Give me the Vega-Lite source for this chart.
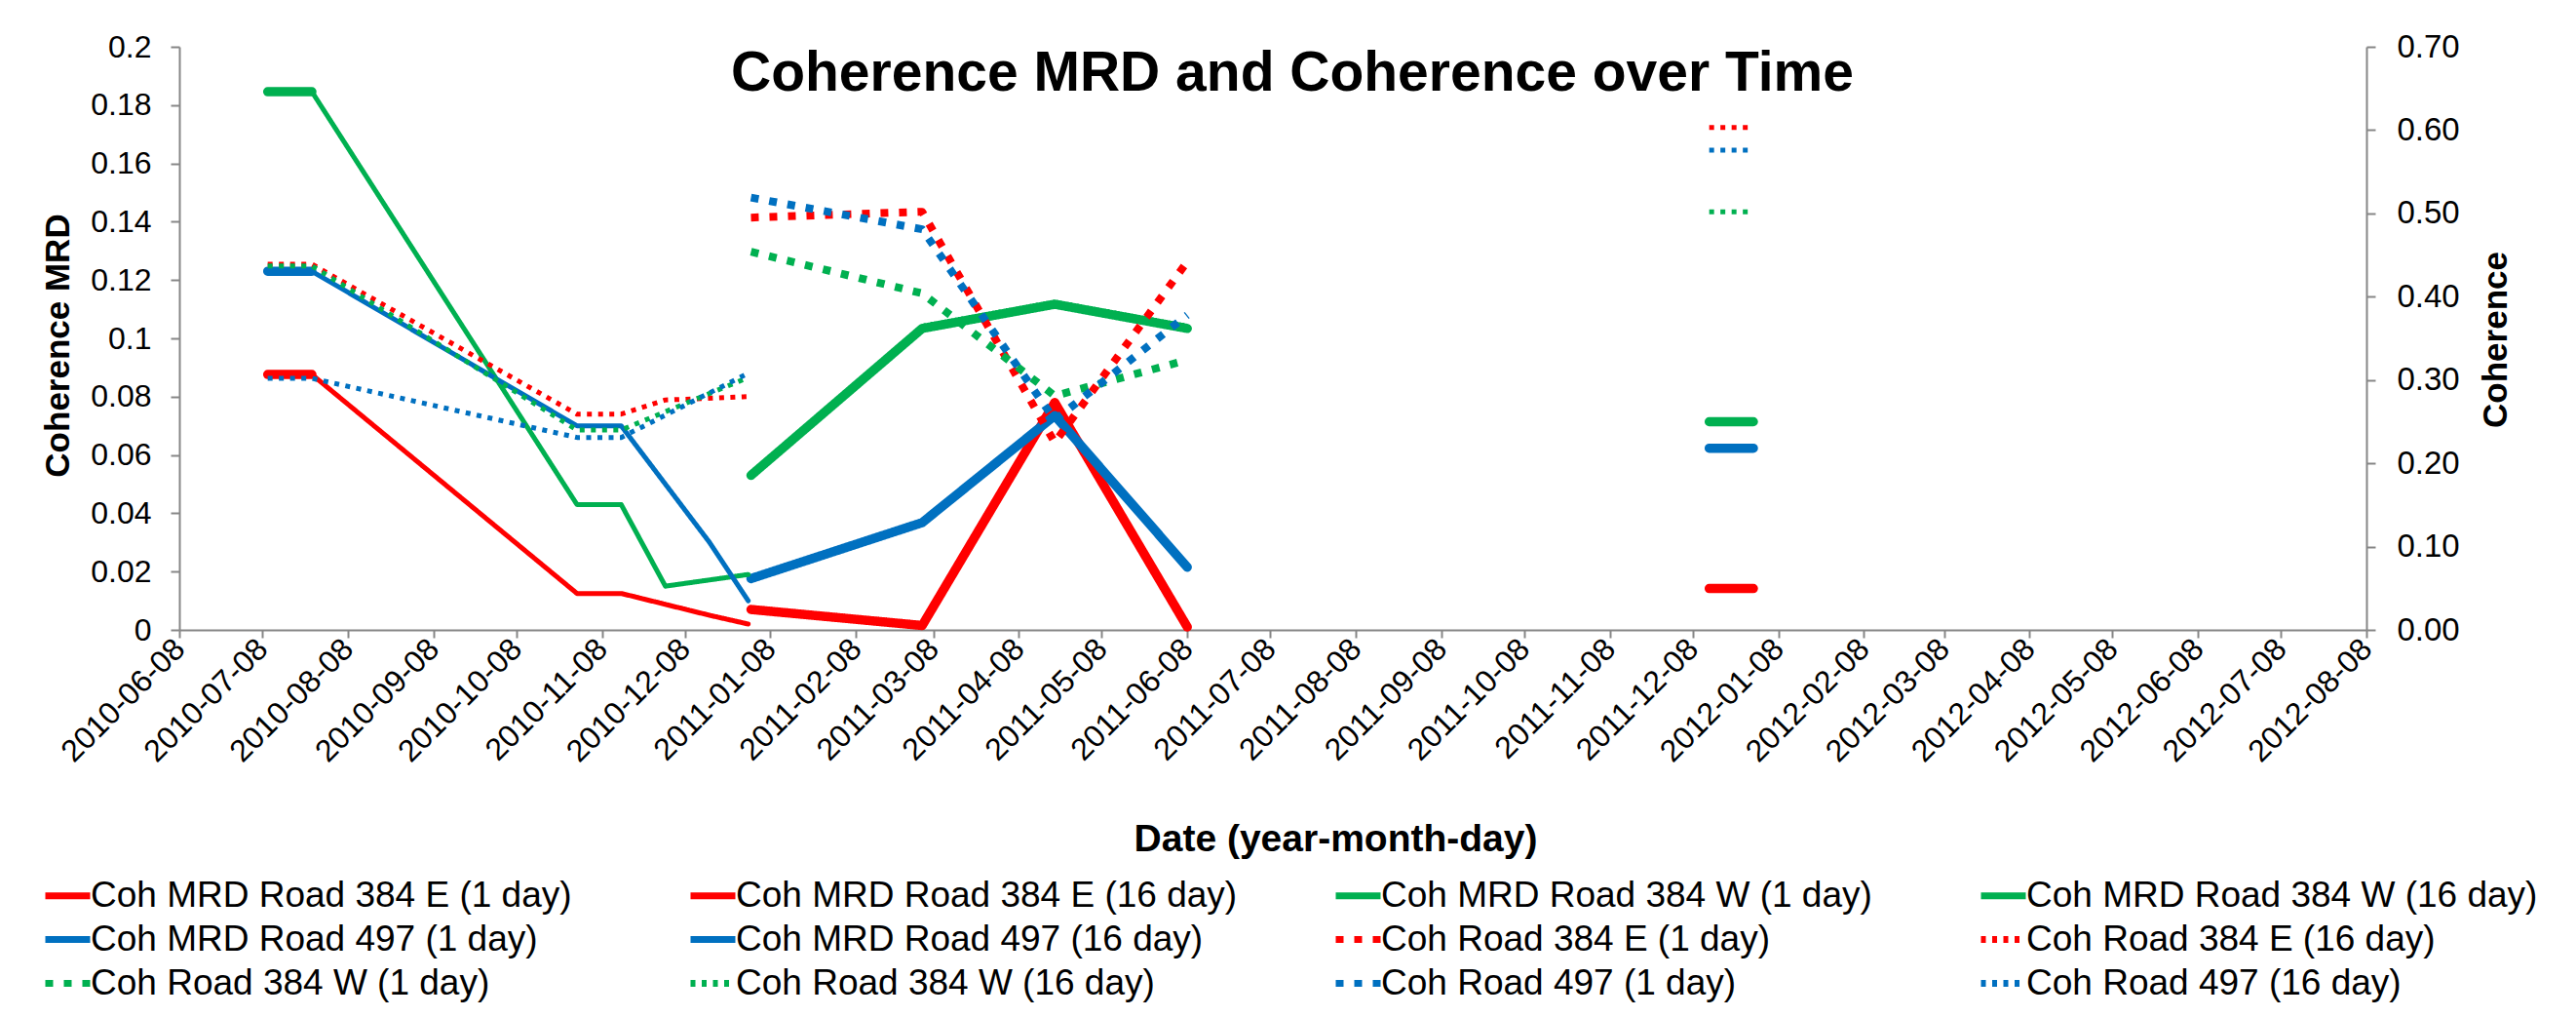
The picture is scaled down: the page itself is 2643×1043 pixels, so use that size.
{
  "$schema": "https://vega.github.io/schema/vega-lite/v6.json",
  "width": 2244,
  "height": 598,
  "autosize": {"type": "none"},
  "padding": {"left": 184, "top": 48, "right": 215, "bottom": 397},
  "background": "white",
  "config": {"view": {"stroke": null}, "font": "Liberation Sans"},
  "title": {"text": "Coherence MRD and Coherence over Time", "font": "Liberation Sans", "fontSize": 57, "fontWeight": "bold", "color": "black", "anchor": "middle", "dx": 20, "baseline": "middle", "offset": -101},
  "data": {"values": [
    {"series": "Coh MRD Road 384 E (1 day)", "seg": "a", "date": "2010-07-10", "value": 0.0876},
    {"series": "Coh MRD Road 384 E (1 day)", "seg": "a", "date": "2010-07-26", "value": 0.0876},
    {"series": "Coh MRD Road 384 E (1 day)", "seg": "b", "date": "2011-01-01", "value": 0.0070},
    {"series": "Coh MRD Road 384 E (1 day)", "seg": "b", "date": "2011-03-04", "value": 0.0015},
    {"series": "Coh MRD Road 384 E (1 day)", "seg": "b", "date": "2011-04-21", "value": 0.0780},
    {"series": "Coh MRD Road 384 E (1 day)", "seg": "b", "date": "2011-06-08", "value": 0.0010},
    {"series": "Coh MRD Road 384 E (1 day)", "seg": "c", "date": "2011-12-14", "value": 0.0142},
    {"series": "Coh MRD Road 384 E (1 day)", "seg": "c", "date": "2011-12-30", "value": 0.0142},
    {"series": "Coh MRD Road 384 E (16 day)", "seg": "a", "date": "2010-07-10", "value": 0.0876},
    {"series": "Coh MRD Road 384 E (16 day)", "seg": "a", "date": "2010-07-26", "value": 0.0876},
    {"series": "Coh MRD Road 384 E (16 day)", "seg": "a", "date": "2010-10-30", "value": 0.0125},
    {"series": "Coh MRD Road 384 E (16 day)", "seg": "a", "date": "2010-11-15", "value": 0.0125},
    {"series": "Coh MRD Road 384 E (16 day)", "seg": "a", "date": "2010-12-17", "value": 0.0050},
    {"series": "Coh MRD Road 384 E (16 day)", "seg": "a", "date": "2010-12-31", "value": 0.0020},
    {"series": "Coh MRD Road 384 W (1 day)", "seg": "a", "date": "2010-07-10", "value": 0.1846},
    {"series": "Coh MRD Road 384 W (1 day)", "seg": "a", "date": "2010-07-26", "value": 0.1846},
    {"series": "Coh MRD Road 384 W (1 day)", "seg": "b", "date": "2011-01-01", "value": 0.0530},
    {"series": "Coh MRD Road 384 W (1 day)", "seg": "b", "date": "2011-03-04", "value": 0.1034},
    {"series": "Coh MRD Road 384 W (1 day)", "seg": "b", "date": "2011-04-21", "value": 0.1117},
    {"series": "Coh MRD Road 384 W (1 day)", "seg": "b", "date": "2011-06-08", "value": 0.1034},
    {"series": "Coh MRD Road 384 W (1 day)", "seg": "c", "date": "2011-12-14", "value": 0.0714},
    {"series": "Coh MRD Road 384 W (1 day)", "seg": "c", "date": "2011-12-30", "value": 0.0714},
    {"series": "Coh MRD Road 384 W (16 day)", "seg": "a", "date": "2010-07-10", "value": 0.1846},
    {"series": "Coh MRD Road 384 W (16 day)", "seg": "a", "date": "2010-07-26", "value": 0.1846},
    {"series": "Coh MRD Road 384 W (16 day)", "seg": "a", "date": "2010-10-30", "value": 0.0430},
    {"series": "Coh MRD Road 384 W (16 day)", "seg": "a", "date": "2010-11-15", "value": 0.0430},
    {"series": "Coh MRD Road 384 W (16 day)", "seg": "a", "date": "2010-12-01", "value": 0.0150},
    {"series": "Coh MRD Road 384 W (16 day)", "seg": "a", "date": "2010-12-31", "value": 0.0190},
    {"series": "Coh MRD Road 497 (1 day)", "seg": "a", "date": "2010-07-10", "value": 0.1230},
    {"series": "Coh MRD Road 497 (1 day)", "seg": "a", "date": "2010-07-26", "value": 0.1230},
    {"series": "Coh MRD Road 497 (1 day)", "seg": "b", "date": "2011-01-01", "value": 0.0176},
    {"series": "Coh MRD Road 497 (1 day)", "seg": "b", "date": "2011-03-04", "value": 0.0368},
    {"series": "Coh MRD Road 497 (1 day)", "seg": "b", "date": "2011-04-21", "value": 0.0735},
    {"series": "Coh MRD Road 497 (1 day)", "seg": "b", "date": "2011-06-08", "value": 0.0215},
    {"series": "Coh MRD Road 497 (1 day)", "seg": "c", "date": "2011-12-14", "value": 0.0623},
    {"series": "Coh MRD Road 497 (1 day)", "seg": "c", "date": "2011-12-30", "value": 0.0623},
    {"series": "Coh MRD Road 497 (16 day)", "seg": "a", "date": "2010-07-10", "value": 0.1230},
    {"series": "Coh MRD Road 497 (16 day)", "seg": "a", "date": "2010-07-26", "value": 0.1230},
    {"series": "Coh MRD Road 497 (16 day)", "seg": "a", "date": "2010-10-30", "value": 0.0700},
    {"series": "Coh MRD Road 497 (16 day)", "seg": "a", "date": "2010-11-15", "value": 0.0700},
    {"series": "Coh MRD Road 497 (16 day)", "seg": "a", "date": "2010-12-17", "value": 0.0300},
    {"series": "Coh MRD Road 497 (16 day)", "seg": "a", "date": "2010-12-31", "value": 0.0100},
    {"series": "Coh Road 384 E (1 day)", "seg": "b", "date": "2011-01-01", "value": 0.495},
    {"series": "Coh Road 384 E (1 day)", "seg": "b", "date": "2011-03-04", "value": 0.502},
    {"series": "Coh Road 384 E (1 day)", "seg": "b", "date": "2011-04-21", "value": 0.225},
    {"series": "Coh Road 384 E (1 day)", "seg": "b", "date": "2011-06-08", "value": 0.442},
    {"series": "Coh Road 384 E (16 day)", "seg": "a", "date": "2010-07-10", "value": 0.439},
    {"series": "Coh Road 384 E (16 day)", "seg": "a", "date": "2010-07-26", "value": 0.439},
    {"series": "Coh Road 384 E (16 day)", "seg": "a", "date": "2010-10-30", "value": 0.259},
    {"series": "Coh Road 384 E (16 day)", "seg": "a", "date": "2010-11-15", "value": 0.259},
    {"series": "Coh Road 384 E (16 day)", "seg": "a", "date": "2010-12-01", "value": 0.276},
    {"series": "Coh Road 384 E (16 day)", "seg": "a", "date": "2010-12-31", "value": 0.280},
    {"series": "Coh Road 384 E (16 day)", "seg": "c", "date": "2011-12-14", "value": 0.603},
    {"series": "Coh Road 384 E (16 day)", "seg": "c", "date": "2011-12-30", "value": 0.603},
    {"series": "Coh Road 384 W (1 day)", "seg": "b", "date": "2011-01-01", "value": 0.454},
    {"series": "Coh Road 384 W (1 day)", "seg": "b", "date": "2011-03-04", "value": 0.404},
    {"series": "Coh Road 384 W (1 day)", "seg": "b", "date": "2011-04-21", "value": 0.281},
    {"series": "Coh Road 384 W (1 day)", "seg": "b", "date": "2011-06-08", "value": 0.324},
    {"series": "Coh Road 384 W (16 day)", "seg": "a", "date": "2010-07-10", "value": 0.437},
    {"series": "Coh Road 384 W (16 day)", "seg": "a", "date": "2010-07-26", "value": 0.437},
    {"series": "Coh Road 384 W (16 day)", "seg": "a", "date": "2010-10-30", "value": 0.240},
    {"series": "Coh Road 384 W (16 day)", "seg": "a", "date": "2010-11-15", "value": 0.240},
    {"series": "Coh Road 384 W (16 day)", "seg": "a", "date": "2010-12-31", "value": 0.303},
    {"series": "Coh Road 384 W (16 day)", "seg": "c", "date": "2011-12-14", "value": 0.502},
    {"series": "Coh Road 384 W (16 day)", "seg": "c", "date": "2011-12-30", "value": 0.502},
    {"series": "Coh Road 497 (1 day)", "seg": "b", "date": "2011-01-01", "value": 0.519},
    {"series": "Coh Road 497 (1 day)", "seg": "b", "date": "2011-03-04", "value": 0.481},
    {"series": "Coh Road 497 (1 day)", "seg": "b", "date": "2011-04-21", "value": 0.252},
    {"series": "Coh Road 497 (1 day)", "seg": "b", "date": "2011-06-08", "value": 0.378},
    {"series": "Coh Road 497 (16 day)", "seg": "a", "date": "2010-07-10", "value": 0.302},
    {"series": "Coh Road 497 (16 day)", "seg": "a", "date": "2010-07-26", "value": 0.302},
    {"series": "Coh Road 497 (16 day)", "seg": "a", "date": "2010-10-30", "value": 0.231},
    {"series": "Coh Road 497 (16 day)", "seg": "a", "date": "2010-11-15", "value": 0.231},
    {"series": "Coh Road 497 (16 day)", "seg": "a", "date": "2010-12-31", "value": 0.308},
    {"series": "Coh Road 497 (16 day)", "seg": "c", "date": "2011-12-14", "value": 0.576},
    {"series": "Coh Road 497 (16 day)", "seg": "c", "date": "2011-12-30", "value": 0.576}
  ]},
  "encoding": {
    "x": {
      "field": "date", "type": "temporal",
      "scale": {"type": "utc", "nice": false, "domain": ["2010-06-08", "2012-08-08"]},
      "axis": {
        "values": ["2010-06-08", "2010-07-08", "2010-08-08", "2010-09-08", "2010-10-08", "2010-11-08", "2010-12-08", "2011-01-08", "2011-02-08", "2011-03-08", "2011-04-08", "2011-05-08", "2011-06-08", "2011-07-08", "2011-08-08", "2011-09-08", "2011-10-08", "2011-11-08", "2011-12-08", "2012-01-08", "2012-02-08", "2012-03-08", "2012-04-08", "2012-05-08", "2012-06-08", "2012-07-08", "2012-08-08"],
        "format": "%Y-%m-%d",
        "labelAngle": -45, "labelAlign": "right", "labelBaseline": "middle", "labelPadding": 6,
        "labelFontSize": 32, "labelColor": "black", "labelOverlap": false, "labelBound": false, "labelFlush": false,
        "domainColor": "#868686", "domainWidth": 2, "tickColor": "#868686", "tickWidth": 2, "tickSize": 8, "grid": false,
        "title": "Date (year-month-day)", "titleFontSize": 39, "titleFontWeight": "bold", "titleColor": "black",
        "titleX": 1186, "titleY": 214, "titleBaseline": "middle", "titleAlign": "center"
      }
    },
    "color": {
      "field": "series", "type": "nominal",
      "scale": {
        "domain": ["Coh MRD Road 384 E (1 day)", "Coh MRD Road 497 (1 day)", "Coh Road 384 W (1 day)", "Coh MRD Road 384 E (16 day)", "Coh MRD Road 497 (16 day)", "Coh Road 384 W (16 day)", "Coh MRD Road 384 W (1 day)", "Coh Road 384 E (1 day)", "Coh Road 497 (1 day)", "Coh MRD Road 384 W (16 day)", "Coh Road 384 E (16 day)", "Coh Road 497 (16 day)"],
        "range": ["#FF0000", "#0070C0", "#00B050", "#FF0000", "#0070C0", "#00B050", "#00B050", "#FF0000", "#0070C0", "#00B050", "#FF0000", "#0070C0"]
      },
      "legend": {
        "title": null, "orient": "none", "legendX": -141, "legendY": 844, "columns": 4, "gridAlign": "all", "columnPadding": 76, "rowPadding": -8, "padding": 0,
        "symbolType": "stroke", "symbolSize": 2116, "symbolStrokeWidth": 7, "labelOffset": -3,
        "labelFontSize": 37, "labelFont": "Liberation Sans", "labelColor": "black", "labelLimit": 1000
      }
    },
    "strokeDash": {
      "field": "series", "type": "nominal",
      "scale": {
        "domain": ["Coh MRD Road 384 E (1 day)", "Coh MRD Road 497 (1 day)", "Coh Road 384 W (1 day)", "Coh MRD Road 384 E (16 day)", "Coh MRD Road 497 (16 day)", "Coh Road 384 W (16 day)", "Coh MRD Road 384 W (1 day)", "Coh Road 384 E (1 day)", "Coh Road 497 (1 day)", "Coh MRD Road 384 W (16 day)", "Coh Road 384 E (16 day)", "Coh Road 497 (16 day)"],
        "range": [[1, 0], [1, 0], [8, 11], [1, 0], [1, 0], [5, 6.5], [1, 0], [8, 11], [8, 11], [1, 0], [5, 6.5], [5, 6.5]]
      },
      "legend": {
        "title": null, "orient": "none", "legendX": -141, "legendY": 844, "columns": 4, "gridAlign": "all", "columnPadding": 76, "rowPadding": -8, "padding": 0,
        "symbolType": "stroke", "symbolSize": 2116, "symbolStrokeWidth": 7, "labelOffset": -3,
        "labelFontSize": 37, "labelFont": "Liberation Sans", "labelColor": "black", "labelLimit": 1000
      }
    },
    "detail": {"field": "seg", "type": "nominal"}
  },
  "layer": [
    {
      "encoding": {
        "y": {
          "field": "value", "type": "quantitative",
          "scale": {"domain": [0, 0.2], "nice": false, "zero": true},
          "axis": {
            "orient": "left", "values": [0, 0.02, 0.04, 0.06, 0.08, 0.1, 0.12, 0.14, 0.16, 0.18, 0.2], "format": "~g",
            "labelFontSize": 32, "labelColor": "black", "labelPadding": 20, "labelOverlap": false, "labelBound": false, "labelFlush": false,
            "domainColor": "#868686", "domainWidth": 2, "tickColor": "#868686", "tickWidth": 2, "tickSize": 9, "grid": false,
            "title": "Coherence MRD", "titleFontSize": 35, "titleFontWeight": "bold", "titleColor": "black",
            "titleX": -125, "titleY": 306, "titleAngle": -90, "titleBaseline": "middle", "titleAlign": "center"
          }
        }
      },
      "layer": [
        {
          "transform": [{"filter": "indexof(datum.series, 'MRD') >= 0 && indexof(datum.series, '(1 day)') >= 0"}],
          "mark": {"type": "line", "strokeWidth": 9.5, "strokeCap": "round", "strokeJoin": "round"}
        },
        {
          "transform": [{"filter": "indexof(datum.series, 'MRD') >= 0 && indexof(datum.series, '(16 day)') >= 0"}],
          "mark": {"type": "line", "strokeWidth": 5, "strokeCap": "round", "strokeJoin": "round"}
        }
      ]
    },
    {
      "encoding": {
        "y": {
          "field": "value", "type": "quantitative",
          "scale": {"domain": [0, 0.7], "nice": false, "zero": true},
          "axis": {
            "orient": "right", "values": [0, 0.1, 0.2, 0.3, 0.4, 0.5, 0.6, 0.7], "format": ".2f",
            "labelFontSize": 33, "labelColor": "black", "labelPadding": 22, "labelOverlap": false, "labelBound": false, "labelFlush": false,
            "domainColor": "#868686", "domainWidth": 2, "tickColor": "#868686", "tickWidth": 2, "tickSize": 9, "grid": false,
            "title": "Coherence", "titleFontSize": 35, "titleFontWeight": "bold", "titleColor": "black",
            "titleX": 132, "titleY": 300, "titleAngle": -90, "titleBaseline": "middle", "titleAlign": "center"
          }
        }
      },
      "layer": [
        {
          "transform": [{"filter": "indexof(datum.series, 'MRD') < 0 && indexof(datum.series, '(1 day)') >= 0"}],
          "mark": {"type": "line", "strokeWidth": 8, "strokeCap": "butt", "strokeJoin": "round"}
        },
        {
          "transform": [{"filter": "indexof(datum.series, 'MRD') < 0 && indexof(datum.series, '(16 day)') >= 0"}],
          "mark": {"type": "line", "strokeWidth": 5, "strokeCap": "butt", "strokeJoin": "round"}
        }
      ]
    }
  ],
  "resolve": {"scale": {"y": "independent"}}
}
